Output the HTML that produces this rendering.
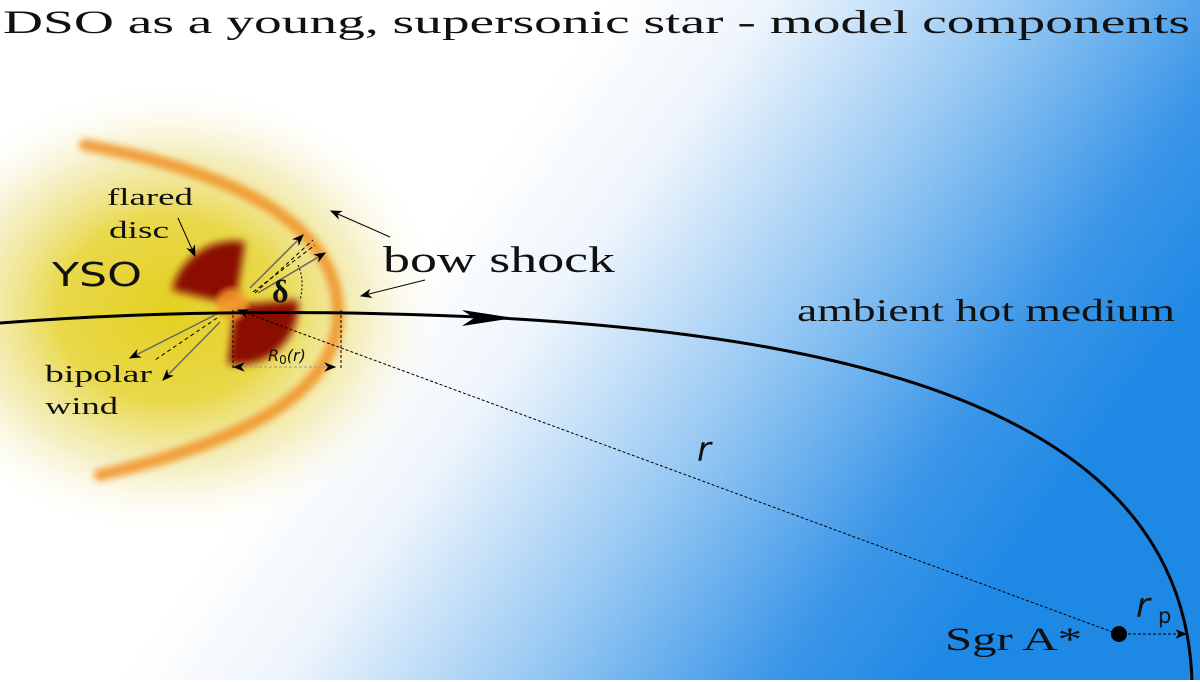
<!DOCTYPE html>
<html><head><meta charset="utf-8"><style>
html,body{margin:0;padding:0;background:#fff;}
svg{display:block}
</style></head><body>
<svg width="1200" height="682" viewBox="0 0 1200 682" xmlns="http://www.w3.org/2000/svg">
<defs>
<linearGradient id="bg" gradientUnits="userSpaceOnUse" x1="470" y1="190" x2="1010" y2="580">
<stop offset="0" stop-color="#ffffff"/>
<stop offset="0.2" stop-color="#eef5fc"/>
<stop offset="0.5" stop-color="#98c9f3"/>
<stop offset="0.8" stop-color="#3b96e8"/>
<stop offset="1" stop-color="#1e88e5"/>
</linearGradient>
<radialGradient id="yel" cx="170" cy="310" r="280" gradientUnits="userSpaceOnUse" gradientTransform="translate(170 310) scale(1 0.82) translate(-170 -310)">
<stop offset="0" stop-color="#e4d020"/>
<stop offset="0.4" stop-color="#e8d640" stop-opacity="0.95"/>
<stop offset="0.7" stop-color="#efe6a0" stop-opacity="0.6"/>
<stop offset="1" stop-color="#ffffff" stop-opacity="0"/>
</radialGradient>
<radialGradient id="core" cx="232" cy="304" r="20" gradientUnits="userSpaceOnUse">
<stop offset="0" stop-color="#f39a2a"/>
<stop offset="0.6" stop-color="#f39a2a" stop-opacity="0.8"/>
<stop offset="1" stop-color="#f39a2a" stop-opacity="0"/>
</radialGradient>
<filter id="b4" x="-20%" y="-20%" width="140%" height="140%"><feGaussianBlur stdDeviation="3.5"/></filter>
<filter id="b6" x="-20%" y="-20%" width="140%" height="140%"><feGaussianBlur stdDeviation="4"/></filter>
<marker id="ah" viewBox="0 0 10 10" refX="9" refY="5" markerWidth="12" markerHeight="12" orient="auto-start-reverse" markerUnits="userSpaceOnUse"><path d="M0,1 L10,5 L0,9 L3,5z" fill="#000"/></marker>
</defs>
<rect x="0" y="0" width="1200" height="680" fill="url(#bg)"/>
<rect x="0" y="0" width="1200" height="682" fill="url(#yel)"/>
<path d="M85,145 C250,175 335,230 338,310 C340,390 250,440 100,475" fill="none" stroke="#f0952a" stroke-width="12" stroke-linecap="round" filter="url(#b4)" opacity="0.9"/>
<g filter="url(#b6)" fill="#8b0a02">
<path d="M235,305 L172,290 A64,64 0 0 1 245,242 Z"/>
<path d="M235,305 L298,300 A60,60 0 0 1 228,364 Z"/>
</g>
<circle cx="232" cy="304" r="20" fill="url(#core)"/>
<path d="M0,323 Q230,305 500,318 C900,340 1185,430 1192,682" fill="none" stroke="#000" stroke-width="3"/>
<path d="M462,310 L514,318 L462,326 L474,318z" fill="#000"/>
<line x1="1118" y1="634" x2="238" y2="310" stroke="#000" stroke-width="1" stroke-dasharray="3,2" marker-end="url(#ah)"/>
<circle cx="1119" cy="634" r="8" fill="#000"/>
<line x1="1128" y1="634" x2="1186" y2="634" stroke="#000" stroke-width="1" stroke-dasharray="3,2" marker-end="url(#ah)"/>
<line x1="233" y1="310" x2="233" y2="368" stroke="#000" stroke-width="1" stroke-dasharray="3,2"/>
<line x1="341" y1="310" x2="341" y2="368" stroke="#000" stroke-width="1" stroke-dasharray="3,2"/>
<line x1="234" y1="367" x2="335" y2="367" stroke="#999" stroke-width="1" stroke-dasharray="3,2" marker-start="url(#ah)" marker-end="url(#ah)"/>
<g stroke="#666" stroke-width="1.5">
<line x1="250" y1="288" x2="303" y2="235" marker-end="url(#ah)"/>
<line x1="258" y1="293" x2="325" y2="253" marker-end="url(#ah)"/>
<line x1="215" y1="315" x2="130" y2="358" marker-end="url(#ah)"/>
<line x1="220" y1="322" x2="163" y2="380" marker-end="url(#ah)"/>
</g>
<g stroke="#000" stroke-width="1" stroke-dasharray="4,3">
<line x1="253" y1="292" x2="315" y2="245"/>
<line x1="255" y1="293" x2="313" y2="240"/>
<line x1="217" y1="318" x2="155" y2="360"/>
</g>
<path d="M298,265 Q305,280 300,300" fill="none" stroke="#000" stroke-width="1" stroke-dasharray="2,2"/>
<line x1="178" y1="218" x2="195" y2="256" stroke="#000" stroke-width="1" marker-end="url(#ah)"/>
<line x1="390" y1="237" x2="331" y2="211" stroke="#000" stroke-width="1" marker-end="url(#ah)"/>
<line x1="425" y1="280" x2="361" y2="296" stroke="#000" stroke-width="1" marker-end="url(#ah)"/>
<g font-family="'Liberation Serif', serif" fill="#111">
<text x="3" y="33" font-size="33" textLength="1187" lengthAdjust="spacingAndGlyphs">DSO as a young, supersonic star - model components</text>
<text x="107" y="205" font-size="24" textLength="86" lengthAdjust="spacingAndGlyphs">flared</text>
<text x="109" y="238" font-size="24" textLength="60" lengthAdjust="spacingAndGlyphs">disc</text>
<text x="383" y="272" font-size="37" textLength="232" lengthAdjust="spacingAndGlyphs">bow shock</text>
<text x="797" y="321" font-size="32" textLength="378" lengthAdjust="spacingAndGlyphs">ambient hot medium</text>
<text x="45" y="382" font-size="24" textLength="107" lengthAdjust="spacingAndGlyphs">bipolar</text>
<text x="45" y="414" font-size="24" textLength="73" lengthAdjust="spacingAndGlyphs">wind</text>
<text x="272" y="302" font-size="32" font-weight="bold">δ</text>
<text x="945" y="650" font-size="33" textLength="137" lengthAdjust="spacingAndGlyphs">Sgr A*</text>
</g>
<g font-family="'DejaVu Sans', 'Liberation Sans', sans-serif" fill="#111">
<text x="52" y="286" font-size="33" textLength="90" lengthAdjust="spacingAndGlyphs">YSO</text>
<text x="268" y="361" font-size="16" font-style="italic">R<tspan font-size="12" font-style="normal" dy="3">0</tspan><tspan dy="-3">(r)</tspan></text>
<text x="697" y="461" font-size="34" font-style="italic">r</text>
<text x="1136" y="617" font-size="34" font-style="italic">r</text>
<text x="1158" y="623" font-size="21">p</text>
</g>
<rect x="0" y="680" width="1200" height="2" fill="#fff"/>
</svg>
</body></html>
